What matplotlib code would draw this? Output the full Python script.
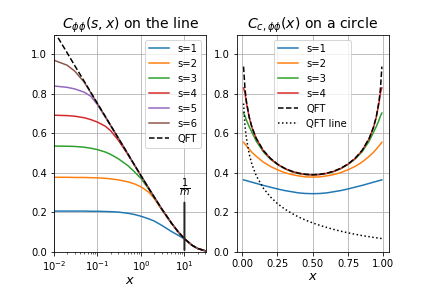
import matplotlib
matplotlib.use('Agg')
import matplotlib.pyplot as plt

# mass of the field, the 1/m marker sits at x = 1/m
m = 0.1

# ---- line: C_phiphi(s, x) ----
x_line = [0.01, 0.02, 0.03, 0.05, 0.07, 0.1, 0.15, 0.2, 0.3, 0.5, 0.7,
          1, 1.5, 2, 3, 5, 7, 10, 15, 20, 31.6]
qft_line = [1.118, 1.008, 0.943, 0.862, 0.808, 0.751, 0.687, 0.641, 0.577, 0.496, 0.442,
            0.386, 0.323, 0.279, 0.218, 0.147, 0.105, 0.067, 0.034, 0.018, 0.0046]
s_line = {
    1: [0.207, 0.207, 0.207, 0.207, 0.206, 0.206, 0.205, 0.204, 0.202, 0.196, 0.190,
        0.181, 0.168, 0.157, 0.135, 0.104, 0.086, 0.066, 0.033, 0.0175, 0.0045],
    2: [0.378, 0.378, 0.377, 0.377, 0.376, 0.375, 0.373, 0.370, 0.365, 0.355, 0.345,
        0.330, 0.303, 0.272, 0.214, 0.146, 0.104, 0.066, 0.034, 0.018, 0.0046],
    3: [0.536, 0.535, 0.534, 0.530, 0.525, 0.518, 0.506, 0.494, 0.472, 0.437, 0.407,
        0.372, 0.319, 0.277, 0.218, 0.147, 0.105, 0.067, 0.034, 0.018, 0.0046],
    4: [0.692, 0.690, 0.687, 0.679, 0.670, 0.657, 0.637, 0.614, 0.566, 0.493, 0.441,
        0.386, 0.323, 0.279, 0.218, 0.147, 0.105, 0.067, 0.034, 0.018, 0.0046],
    5: [0.840, 0.833, 0.825, 0.808, 0.788, 0.745, 0.683, 0.639, 0.577, 0.496, 0.442,
        0.386, 0.323, 0.279, 0.218, 0.147, 0.105, 0.067, 0.034, 0.018, 0.0046],
    6: [0.970, 0.945, 0.915, 0.858, 0.806, 0.750, 0.687, 0.641, 0.577, 0.496, 0.442,
        0.386, 0.323, 0.279, 0.218, 0.147, 0.105, 0.067, 0.034, 0.018, 0.0046],
}

# ---- circle: C_c,phiphi(x) ----
x_circ = [0.01, 0.02, 0.03, 0.05, 0.07, 0.1, 0.15, 0.2, 0.25, 0.3, 0.35, 0.4, 0.45, 0.5,
          0.55, 0.6, 0.65, 0.7, 0.75, 0.8, 0.85, 0.9, 0.93, 0.95, 0.97, 0.98, 0.99]
qft_circ = [0.938, 0.828, 0.764, 0.683, 0.630, 0.575, 0.514, 0.474, 0.445, 0.424, 0.409, 0.399, 0.393, 0.391,
            0.393, 0.399, 0.409, 0.424, 0.445, 0.474, 0.514, 0.575, 0.630, 0.683, 0.764, 0.828, 0.938]
qft_line_circ = [0.751, 0.641, 0.577, 0.496, 0.442, 0.386, 0.323, 0.279, 0.245, 0.218, 0.196, 0.177, 0.161, 0.147,
                 0.135, 0.124, 0.114, 0.105, 0.097, 0.090, 0.083, 0.0775, 0.074, 0.072, 0.070, 0.069, 0.068]
s_circ = {
    1: [0.365, 0.363, 0.361, 0.357, 0.353, 0.347, 0.337, 0.328, 0.319, 0.311, 0.305, 0.299, 0.296, 0.295,
        0.296, 0.299, 0.305, 0.311, 0.319, 0.328, 0.337, 0.347, 0.353, 0.357, 0.361, 0.363, 0.365],
    2: [0.555, 0.546, 0.537, 0.520, 0.504, 0.484, 0.455, 0.433, 0.416, 0.402, 0.392, 0.385, 0.380, 0.379,
        0.380, 0.385, 0.392, 0.402, 0.416, 0.433, 0.455, 0.484, 0.504, 0.520, 0.537, 0.546, 0.555],
    3: [0.703, 0.688, 0.668, 0.634, 0.605, 0.561, 0.507, 0.470, 0.443, 0.422, 0.407, 0.397, 0.392, 0.390,
        0.392, 0.397, 0.407, 0.422, 0.443, 0.470, 0.507, 0.561, 0.605, 0.634, 0.668, 0.688, 0.703],
    4: [0.830, 0.805, 0.756, 0.681, 0.629, 0.574, 0.513, 0.473, 0.444, 0.423, 0.408, 0.398, 0.392, 0.390,
        0.392, 0.398, 0.408, 0.423, 0.444, 0.473, 0.513, 0.574, 0.629, 0.681, 0.756, 0.805, 0.830],
}


def plot_line(ax):
    for s, vals in s_line.items():
        ax.plot(x_line, vals, label=f's={s}')
    ax.plot(x_line, qft_line, 'k--', label='QFT')
    ax.set_xscale('log')
    ax.set_xlim(1e-2, 10 ** 1.5)
    ax.set_ylim(0, 1.1)
    ax.annotate(r'$\frac{1}{m}$', xy=(1 / m, 0), xytext=(1 / m, 0.27),
                ha='center', va='bottom', fontsize=14,
                arrowprops=dict(arrowstyle='-', color='0.15', lw=2))
    ax.set_title(r'$C_{\phi\phi}(s,x)$ on the line', fontsize=14)
    ax.set_xlabel('$x$', fontsize=13, labelpad=1)
    ax.grid(True)
    ax.legend(loc='upper right')


def plot_circle(ax):
    for s, vals in s_circ.items():
        ax.plot(x_circ, vals, label=f's={s}')
    ax.plot(x_circ, qft_circ, 'k--', label='QFT')
    ax.plot(x_circ, qft_line_circ, 'k:', label='QFT line')
    ax.set_ylim(0, 1.1)
    ax.set_title(r'$C_{c,\phi\phi}(x)$ on a circle', fontsize=14)
    ax.set_xlabel('$x$', fontsize=13, labelpad=1)
    ax.grid(True)
    ax.legend(loc='upper center')


fig, (ax1, ax2) = plt.subplots(1, 2, figsize=(6, 4), dpi=72)
plot_line(ax1)
plot_circle(ax2)
plt.subplots_adjust(bottom=0.125)
plt.savefig('out.png')
